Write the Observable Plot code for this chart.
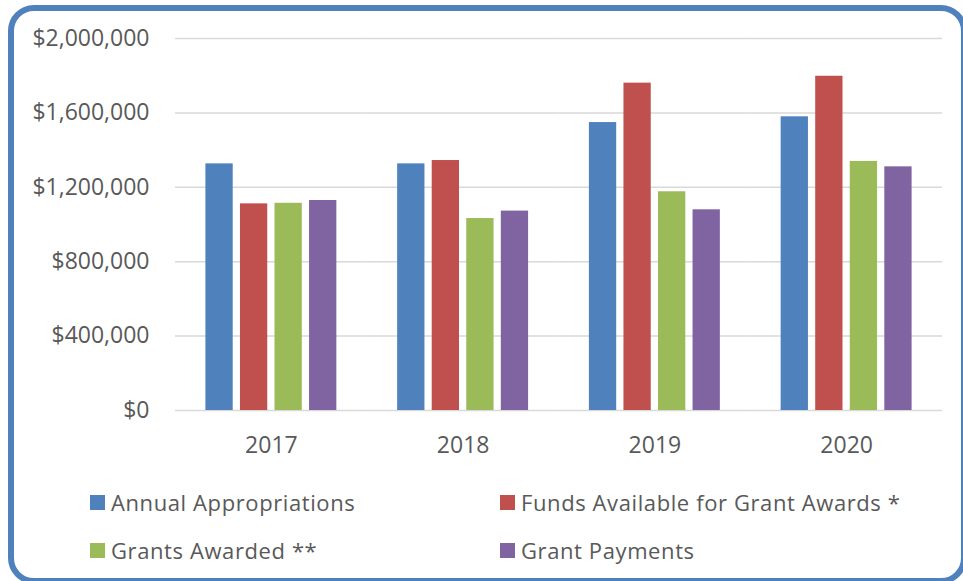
<!DOCTYPE html>
<html>
<head>
<meta charset="utf-8">
<script src="https://cdn.jsdelivr.net/npm/d3@7"></script>
<script src="https://cdn.jsdelivr.net/npm/@observablehq/plot@0.6"></script>
<style>
  html, body { margin: 0; padding: 0; background: #fff; }
  #wrap { position: relative; width: 963px; height: 581px; overflow: hidden; font-family: "Open Sans", sans-serif; color: #595959; }
  #frame { position: absolute; left: 8px; top: 5px; width: 947px; height: 567px; border: 6px solid #4F81BD; border-radius: 26px; box-sizing: content-box; }
  #chart { position: absolute; left: 0; top: 0; }
  .leg { position: absolute; display: flex; align-items: center; font-size: 22px; letter-spacing: 0.6px; color: #595959; white-space: nowrap; }
  .leg .sw { width: 15px; height: 15px; margin-right: 6px; }
</style>
</head>
<body>
<div id="wrap">
  <div id="frame"></div>
  <div id="chart"></div>
  <div id="legend"></div>
</div>
<script>
const years = ["2017", "2018", "2019", "2020"];
const seriesNames = ["Annual Appropriations", "Funds Available for Grant Awards *", "Grants Awarded **", "Grant Payments"];
const seriesColors = ["#4F81BD", "#C0504D", "#9BBB59", "#8064A2"];
const annualAppropriations = [1326000, 1326000, 1548000, 1579000];
const fundsAvailable = [1111000, 1344000, 1760000, 1797000];
const grantsAwarded = [1114000, 1032000, 1176000, 1339000];
const grantPayments = [1129000, 1072000, 1079000, 1310000];
const yTicks = [0, 400000, 800000, 1200000, 1600000, 2000000];

const seriesValues = [annualAppropriations, fundsAvailable, grantsAwarded, grantPayments];
const data = [];
years.forEach((yr, i) => {
  seriesNames.forEach((s, j) => data.push({year: yr, series: s, value: seriesValues[j][i]}));
});

const fmt = d => "$" + d3.format(",")(d);

const chart = Plot.plot({
  width: 963,
  height: 470,
  marginTop: 38,
  marginBottom: 60,
  marginLeft: 175,
  marginRight: 21,
  style: {fontFamily: "'Open Sans', sans-serif", fontSize: "23px", color: "#595959", background: "transparent", overflow: "visible"},
  fx: {domain: years, padding: 0, round: false, label: null},
  x: {domain: seriesNames, paddingInner: 0.21, paddingOuter: 0.88, round: false, axis: null},
  y: {domain: [0, 2000000], label: null},
  color: {domain: seriesNames, range: seriesColors},
  marks: [
    Plot.gridY(yTicks, {stroke: "#d9d9d9", strokeOpacity: 1, strokeWidth: 1.5}),
    Plot.axisY(yTicks, {tickFormat: fmt, tickSize: 0, tickPadding: 26, fontSize: 23, label: null, fill: "#595959"}),
    Plot.axisFx({anchor: "bottom", tickSize: 0, tickPadding: 26, fontSize: 23, label: null, fill: "#595959"}),
    Plot.barY(data, {fx: "year", x: "series", y: "value", fill: "series"})
  ]
});
document.getElementById("chart").appendChild(chart);

const legendPos = [
  {left: 90, top: 487},
  {left: 500, top: 487},
  {left: 90, top: 535},
  {left: 500, top: 535}
];
const legend = document.getElementById("legend");
seriesNames.forEach((s, j) => {
  const el = document.createElement("div");
  el.className = "leg";
  el.style.left = legendPos[j].left + "px";
  el.style.top = legendPos[j].top + "px";
  el.innerHTML = `<span class="sw" style="background:${seriesColors[j]}"></span><span>${s}</span>`;
  legend.appendChild(el);
});
</script>
</body>
</html>
